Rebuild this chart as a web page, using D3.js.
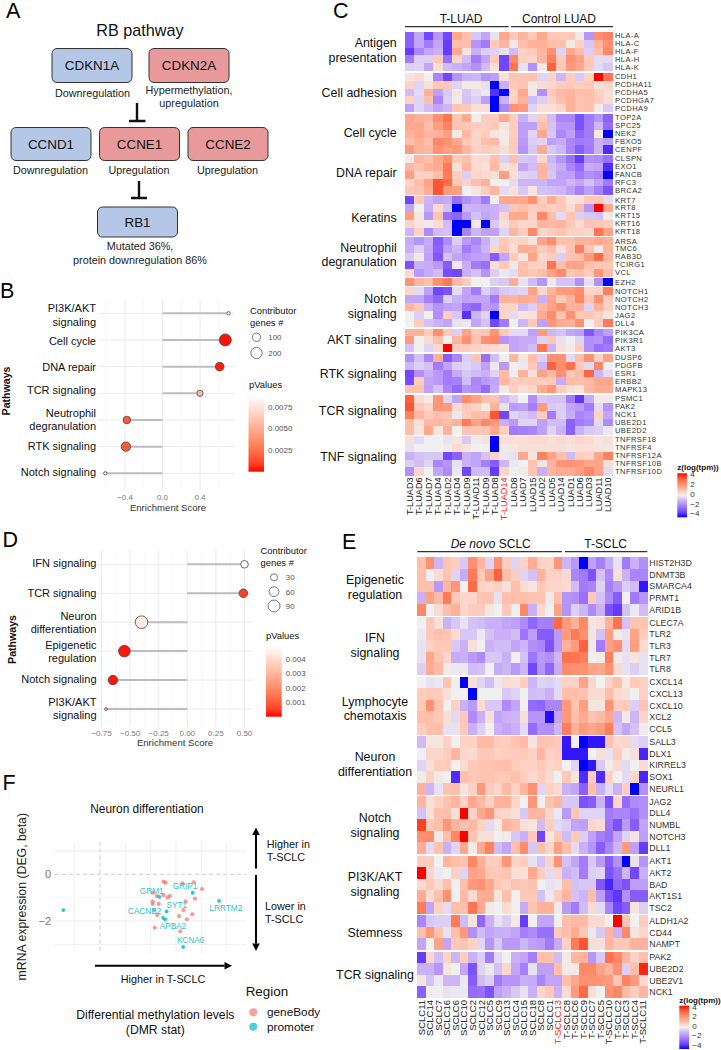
<!DOCTYPE html>
<html><head><meta charset="utf-8">
<style>html,body{margin:0;padding:0;background:#fff}svg{display:block}text{font-family:"Liberation Sans",Arial,sans-serif}</style>
<script src="https://cdn.jsdelivr.net/npm/d3@7"></script></head><body><div id="c"></div>
<script>
// ---------- Panel A ----------
const pathwayGenes=["CDKN1A","CDKN2A","CCND1","CCNE1","CCNE2","RB1"];
const pathwayStatus=["down","up","down","up","up","down"];
const pathwayNotes=[["Downregulation"],["Hypermethylation,","upregulation"],["Downregulation"],["Upregulation"],["Upregulation"],["Mutated 36%,","protein downregulation 86%"]];
// ---------- Panel B ----------
const bPathways=[["PI3K/AKT","signaling"],["Cell cycle"],["DNA repair"],["TCR signaling"],["Neutrophil","degranulation"],["RTK signaling"],["Notch signaling"]];
const bScores=[0.705,0.67,0.61,0.40,-0.38,-0.39,-0.61];
const bGenes=[10,230,110,50,80,130,10];
const bP=[0.0085,0.0001,0.0002,0.0055,0.0016,0.0016,0.0078];
const bTicks=[-0.4,0,0.4];
// ---------- Panel D ----------
const dPathways=[["IFN signaling"],["TCR signaling"],["Neuron","differentiation"],["Epigenetic","regulation"],["Notch signaling"],["PI3K/AKT","signaling"]];
const dScores=[0.50,0.49,-0.40,-0.55,-0.65,-0.71];
const dGenes=[35,45,100,85,55,4];
const dP=[0.0049,0.0005,0.0044,0.0001,0.0001,0.0040];
const dTicks=[-0.75,-0.5,-0.25,0,0.25,0.5];
// ---------- Panel F ----------
const fBodyX=[2.51,2.59,3.26,3.70,4.03,2.09,2.24,2.50,2.67,2.76,2.08,2.08,2.32,3.75,3.38,3.29,2.14,2.26,3.12,3.43,3.64,2.16,3.17];
const fBodyY=[-0.31,-0.36,-0.39,-0.34,-0.63,-0.79,-0.93,-0.89,-0.99,-0.93,-1.17,-1.27,-1.27,-1.04,-1.16,-1.53,-1.53,-1.74,-1.79,-1.93,-1.71,-2.29,-2.44];
const fPromX=[-1.45,2.34,3.66,4.70,2.63,2.49,2.58,3.28];
const fPromY=[-1.53,-0.97,-0.79,-1.14,-1.59,-1.87,-1.93,-3.11];
const fLabels=["GRM1","GRIP1","SYT1","CACNB2","APBA2","KCNA6","LRRTM2"];
const fLabelX=[2.04,3.36,3.03,1.76,2.88,3.58,4.97];
const fLabelY=[-0.70,-0.50,-1.31,-1.59,-2.21,-2.84,-1.43];
// ---------- Panel C ----------
const cCols=["T-LUAD3","T-LUAD6","T-LUAD7","T-LUAD4","T-LUAD2","T-LUAD4","T-LUAD9","T-LUAD11","T-LUAD9","T-LUAD8","T-LUAD14","LUAD8","LUAD7","LUAD15","LUAD2","LUAD5","LUAD14","LUAD1","LUAD6","LUAD3","LUAD11","LUAD10"];
const cGenes=[["HLA-A","HLA-C","HLA-F","HLA-H","HLA-K"],["CDH1","PCDHA11","PCDHA5","PCDHGA7","PCDHA9"],["TOP2A","SPC25","NEK2","FBXO5","CENPF"],["CLSPN","EXO1","FANCB","RFC3","BRCA2"],["KRT7","KRT8","KRT15","KRT16","KRT18"],["ARSA","TMC6","RAB3D","TCIRG1","VCL"],["EZH2"],["NOTCH1","NOTCH2","NOTCH3","JAG2","DLL4"],["PIK3CA","PIK3R1","AKT3"],["DUSP6","PDGFB","ESR1","ERBB2","MAPK13"],["PSMC1","PAK2","NCK1","UBE2D1","UBE2D2"],["TNFRSF18","TNFRSF4","TNFRSF12A","TNFRSF10B","TNFRSF10D"]];
const cValues=[
[-2.5,-1.2,-3,-1.5,-3,1.5,1,-0.6,-1.2,-0.2,1.5,0.8,1.2,0.8,1.5,0.8,0.8,0.8,0.1,-1.5,2,2.3],
[-2.5,-1.2,-2,-1.2,-3.2,1,1,-1.5,-2,0.8,1.2,0.1,1,1.3,1.3,1,1,0.1,0.6,-0.6,1.2,2],
[-3.2,-1.8,-1.2,-1,-3.2,1.5,0.2,-1,-0.5,-0.4,-0.2,-0.8,0.6,0.8,1.2,2,-0.4,1.5,1,-0.5,1,2.2],
[-2,-0.5,-0.5,0.8,-2.2,0.5,-0.8,-2,-1.2,0.8,-3,2.2,0.6,0.5,1.2,2.4,0.8,2,1.6,0.8,-0.3,-0.3],
[-0.5,-0.4,-1.2,0.3,-0.8,-1,-1.2,-1.6,-0.8,0.3,-3,2.6,-0.2,-1.6,0.1,3,0.8,1.8,1.5,0.8,-0.3,-0.6],
[0.2,0.4,0,-1.8,-3,-1.5,-1,-0.9,-1.5,-1.3,0.3,0.9,0.9,1,-0.4,0.6,-0.9,0.7,-0.6,0.6,4,2.6],
[0.6,-0.4,0.3,0.8,0.8,-0.4,0.1,0.1,-0.2,-4,-1,0.8,0.9,0.1,0.4,0.5,0.7,0.8,0.7,0.8,0.3,0.5],
[-0.8,-0.3,1.3,-1.3,-0.6,0.2,-0.6,-0.3,-0.1,-3.4,-4,0.5,1.5,0.1,-1.6,0.8,1.1,1.2,1,1,0.6,0.3],
[0.6,-0.4,1,-1.8,-0.5,0.1,-0.7,-0.5,-1.3,-4,-1,0.6,1.3,-0.8,-0.5,0.6,1,1.3,0.9,1,0.7,0.4],
[-1.3,-0.4,-0.8,-1.2,-0.9,0.9,0.8,0.3,0.3,-4,-1.8,2,1.8,-0.4,0.3,0.3,0.5,1.3,0.9,1,0.1,-0.6],
[1.5,1.3,1.2,2,2.6,0.8,1.5,0,0.7,0.7,1.5,0.7,-1,-0.4,0.7,-0.8,-1.8,-1.8,-2.8,-2,-1.5,-2.5],
[1.5,1.5,1,1.7,2.3,0.9,0.8,0.7,0.6,0.8,0.2,0.7,-1.3,-1.3,1,-0.7,-1.5,-1.5,-2.8,-2,-0.9,-2.3],
[1.3,1.5,1.2,1.3,1.7,0.1,1.2,0.5,0.7,0.2,0.1,0.7,-1.3,-0.4,1.5,-0.6,-1.8,-1.3,-2.4,-2,0.1,-4],
[1,1.3,1,2.2,2,1.5,0.8,0.5,1,1.1,0.1,0.8,-1.4,-0.5,-0.4,-1.3,-1.1,-1.8,-2,-1.9,-1,-1.3],
[1.8,1.3,1.2,2,1.7,1.8,1.2,0.6,0.7,0.6,0.3,0.7,-1.5,-0.6,1.4,-0.6,-0.9,-1.8,-2.6,-2,-1,-3.5],
[0.1,1.2,1,1.5,2,0.8,1,0.4,0.4,1,-0.5,1,-0.6,-0.7,0.5,-0.9,-1.5,-2.2,-3.2,-1.6,-1.7,-2.2],
[1.2,0.9,1.3,1.4,2.5,0.3,1.2,0.4,0.3,1.1,0.3,0.4,-1.2,-0.8,1.2,-0.7,-1.1,-1.8,-2.3,-1.1,-1.2,-3.5],
[1.7,0.6,0.6,1,2.5,0.7,-0.5,0.5,0.4,0.3,1.7,0.3,-0.4,-0.5,1.2,-0.6,-1.3,-1.3,-2,-1.6,-1.8,-4],
[0.5,1,1.6,3.2,2.8,0.8,0.6,1,1.3,0,0,-0.3,-0.9,-0.9,-0.9,-1.2,-1.2,-0.9,-1.2,-0.7,-1.2,-2],
[0.8,0.9,1.4,3.2,1.8,1.7,0,0.2,0.7,1.2,-0.3,0.3,-0.6,0.2,-0.7,-0.8,-0.9,-1.3,-1.9,-1.3,-1.9,-2.8],
[-3,0.8,-0.9,-1.2,-1.1,-2.2,-1.6,-1.3,-2,0,1.5,1.5,1.5,2,0.7,1.4,0.8,0.2,0.3,0.8,0.8,-0.3],
[-1.2,0,-1,0.4,-0.7,-4,-0.9,-1,-1.1,-1,-0.7,0.9,1,0.7,0.8,0.6,0.8,0.4,1.1,-1.5,4,1.5],
[1.7,0.2,-1.4,0.9,-2.2,-2.4,-1.4,-0.7,-1.2,-1,0.5,1.5,1.5,0.6,2.2,1,-0.3,0.9,-0.5,-0.6,-0.7,0.1],
[0.6,0.2,0.1,0.4,-0.8,-4,-4,0.1,-4,-0.6,0.3,0.8,0.5,0.5,1.2,1.1,1.2,0.8,0.4,0.9,0.8,0.7],
[-0.9,0.6,-1.7,-0.8,-0.7,-4,-1.8,-0.9,-1.3,-1.3,-0.4,1.2,0.7,2.2,0.5,0.7,0.9,0.6,0.6,0.5,2.6,1.6],
[-1.1,-1.5,-1.1,-2.6,-1.7,-0.5,-1.4,-1.8,-1,-0.3,0.8,0.5,0.6,0.2,1.6,2.1,1,1,1.3,1.3,1.5,1.3],
[-1,-0.5,-1.2,-2.5,-1.3,-0.9,-2,-1.5,-0.9,0.5,0.9,0.3,1.4,1.3,0.7,1,0.3,0.9,2.4,0.9,0.1,1.2],
[-0.6,0.1,-1.3,-2.7,-0.7,-1.2,-1.5,-1.3,-1.2,-2.6,-1.2,0.8,0.2,1.6,0.5,0.7,-0.5,0.9,1,1.8,2.8,1.2],
[-2.8,-1,-1.1,-1.4,-2.6,-0.1,-1.1,-2,-2.2,0.3,0.8,0.1,1,0.6,0.6,2.6,1,1.6,1.6,1,0.8,0.8],
[0.4,-1.4,-1.1,-0.8,-2.9,-3,-1,-0.7,-1.5,-0.5,-0.1,-0.3,1,0.8,1,1.6,2.1,0.8,1,0.7,1.9,1],
[2,1.2,1,2,2.5,1.1,0.7,0,0,-0.5,-0.6,1.4,-0.2,-0.8,-1.5,0.1,-0.7,-0.7,-1.6,-0.2,-1.6,-4],
[0.5,-0.3,-1.3,-3,-2.8,-0.3,-1.2,-2,-0.5,-1,-0.6,-0.5,-0.4,1.6,0.5,1.2,1.8,1.8,2.1,0.5,0.6,2.3],
[-1.2,-1.2,-1.9,-2.4,-0.5,-1,-1.3,-1.2,-1.2,-2,1.3,1.2,1.4,1.3,-1,1.6,0.8,1.3,2.2,0.9,2,0.7],
[1.2,0.8,-1,-1.5,-1.3,-1.2,-2.2,-2.4,-1.3,-1.5,0.5,0.5,-0.8,-0.5,1.2,1.6,2,1.3,1.3,-0.4,1.3,0.6],
[0,-0.5,0,-1.6,0.7,-0.6,-3.4,-0.9,-0.4,-4,0.5,-0.3,0.2,0.3,1.4,2.1,0.9,2,0.8,0.9,0.6,0.2],
[0,0.7,-0.7,-1,-1.2,-0.2,-0.1,-1.2,-0.7,-3,-2,0,-0.9,0.8,-1.3,1.9,1.4,1.3,2,0,0.7,2.5],
[1.3,1.3,0.7,2,0.7,-0.5,1.6,0.8,0.9,1.9,0.8,-0.3,-0.3,-1.3,1.8,-0.9,-0.7,-1.2,-1.3,-2.7,-1.8,-1.3],
[1.8,0,0.4,1,0,1.2,2,0.9,2,2.2,-1.5,-1.2,-1.1,-1.1,-0.4,0.8,-0.2,0,-0.4,-1.6,-1.5,-2.3],
[-0.7,0,-0.4,0.5,4,0.7,0.7,0.6,0.5,0.4,0.3,-1.2,-1.1,-0.8,2.6,-1,0.3,0.1,0.7,-1.6,-2.2,-2],
[-1.6,-0.7,-1.8,1.3,-2.6,-1.8,-0.5,0.9,-2.2,-0.8,0,1.2,0.2,1,-0.5,2,2,-0.3,1,2,0.6,1.6],
[-0.9,-0.5,-0.7,-2,-1.2,-0.5,-0.4,-0.6,-1.3,-0.1,-1.4,0,-0.1,0.8,-0.9,3,2.1,2.7,0.8,-0.3,2.2,0],
[-3,-1.6,-1,-1.4,-2,-1.1,-0.6,-0.8,-1,-0.4,1.1,0,1.3,0.3,1.6,1.1,2,0.8,1.1,2.9,-0.9,-0.3],
[-2.9,0.7,-1.2,-1.4,-2,-1.9,-0.8,-1.8,-1.4,-1.2,1.2,0.7,0.7,0.8,0.7,0.8,-1.1,1.1,1,1.1,1.5,1.5],
[0.9,0.9,-1.3,-0.7,-1.8,-2.3,-1.5,-1.7,-2.3,-1.1,0.1,0.7,0.3,0.5,1.4,1.9,0.7,0.3,0.2,1.1,1.4,1.4],
[3,0.4,0.1,1.9,-0.4,-1.2,2.1,1.6,1,0.9,-0.9,-0.5,0,-1.6,-0.6,-0.7,-0.7,-2,-3.3,-1.1,0.1,0.1],
[3.2,0.8,0.5,1.9,1.8,0.4,0.8,0.6,0.1,1.3,-0.2,-1.4,-1.3,-1.9,1.8,-0.6,-0.5,-1.2,-1.4,-2,-0.3,-1.5],
[2.3,1.2,0.7,1,0.9,-0.1,0.7,1,1,3.2,-3,-0.4,-0.6,-0.8,0.7,-2,-0.5,-1.1,-1.8,-1.6,0.6,-1.2],
[1,0.3,1.1,1.2,1,1.3,2.5,1.6,2.2,1.8,-1,-1.4,-0.4,-0.4,-1.3,-0.8,-0.8,-2.5,-2,-1.8,-0.3,-1.7],
[1,0.2,1.5,0.2,1.3,0,0.9,0.9,0.9,1.5,0.6,-2,-1.9,-1.8,-1.3,-0.4,-1,-2.5,-1,-0.6,-0.5,-0.1],
[0.3,-0.3,0,0,-0.2,0.2,-0.6,0.1,0.2,-4,0.3,0.3,0.3,0.4,0.4,0.3,0.4,0.3,0.5,0.4,0.2,0.3],
[-0.2,0,0,0,0.1,0.4,0.2,0,0,-4,0.1,0.2,0.3,0.3,0.3,0.3,0.3,0.2,0.3,0.3,0.2,0.2],
[-1,-0.7,-0.6,-0.6,-3,-2.5,-1,-1.2,-0.7,0.6,-0.1,-0.2,1.5,0.2,2.3,1.6,1,-0.8,0.7,0.6,1.5,2.3],
[-0.5,-0.8,-0.4,-1.8,-1.5,-0.2,-1,-1.2,-1.9,-2.6,-0.9,-0.1,0,0.9,0.2,1.3,1.9,2,1.8,1.5,1.6,0.3],
[-1.6,0.5,0,-1.2,-1.7,-0.1,-3,-0.8,-0.8,-3.2,0.5,0,0.1,0.9,-1,1.2,1.4,1.4,1.7,2.2,1.6,-0.3]
];
// ---------- Panel E ----------
const eCols=["SCLC11","SCLC14","SCLC7","SCLC16","SCLC6","SCLC10","SCLC2","SCLC12","SCLC5","SCLC9","SCLC13","SCLC4","SCLC15","SCLC18","SCLC8","SCLC1","T-SCLC13","T-SCLC8","T-SCLC6","T-SCLC9","T-SCLC7","T-SCLC5","T-SCLC10","T-SCLC2","T-SCLC3","T-SCLC4","T-SCLC11"];
const eGenes=[["HIST2H3D","DNMT3B","SMARCA4","PRMT1","ARID1B"],["CLEC7A","TLR2","TLR3","TLR7","TLR8"],["CXCL14","CXCL13","CXCL10","XCL2","CCL5"],["SALL3","DLX1","KIRREL3","SOX1","NEURL1"],["JAG2","DLL4","NUMBL","NOTCH3","DLL1"],["AKT1","AKT2","BAD","AKT1S1","TSC2"],["ALDH1A2","CD44","NAMPT"],["PAK2","UBE2D2","UBE2V1","NCK1"]];
const eValues=[
[1,2,-0.9,0.9,0.7,-0.6,2,1.2,-0.4,2,0.7,-0.4,0.6,1.4,0.6,0.5,1.9,-0.9,-1.4,-4,-1.3,-1.9,-1.1,-0.2,-2,-1,-1.6],
[1,0,0.4,0.9,-0.4,-1.1,2.5,0.8,1.6,3,1,0.7,-0.4,-0.7,1.3,0.6,0.6,0.4,-1.8,-2,-2.8,-0.7,-1.7,0.3,-1,-1.8,-1.8],
[1,1,-1.4,1.2,1.9,0,2.8,0.6,0.5,0.6,0.3,1,0.4,0.2,0.8,0.5,0.5,0.4,-0.8,-2,-1.8,-0.4,-1.9,-1.4,-0.5,-0.8,-3.8],
[-1,1.6,1.1,2.5,0.8,0.5,0.5,0.9,0.9,-0.2,1,1,1,0.9,0.9,0.1,1,-1.5,-1.6,-2.2,0.8,-0.7,-1.7,-2.6,0,-2,-1.5],
[2.2,0,0.4,1,1.3,0.5,0.7,0.7,0.2,0,0.8,0,2.2,-1,0.5,0,1.6,-1.5,-0.5,-0.9,-1.7,-1,-2.8,-3.2,-0.7,-0.1,-0.8],
[0,0.8,0.3,-1,-0.6,-0.2,-0.7,-0.8,-1,-1,-1.2,-1.3,-1.7,-2.4,-1.9,-1.9,2.8,1.8,1.3,2.2,0.2,0.3,1.3,2.6,-0.7,0.9,0.9],
[-0.1,0.8,1,0.9,0.4,-0.6,-0.6,-0.1,-0.7,-1,-1,-0.8,-2.1,-1.3,-2.6,-2.6,-1.4,1.8,2.5,2,0.2,-0.7,1.7,0.1,-0.2,1.6,0.7],
[-0.2,0.6,0.8,0.8,-0.6,-1,0.3,0,-1,-0.8,-0.8,-1.2,-0.9,-1.6,-1.8,-2.8,-1.4,1.3,1.8,3,0.1,-2,1.7,2,-0.3,1.7,0.4],
[-0.2,1.5,0.9,0.5,-1.1,-1,-1.4,-1.7,-0.6,-0.6,-1,0,-0.7,-2.1,-1.4,-1.6,-0.9,2.7,2.6,2.4,0,0.1,2.4,0.1,-0.2,0.2,-0.2],
[-0.5,1.4,1.1,0.1,-0.1,-0.1,-0.8,-0.7,0,-1.1,-0.9,-1.4,-0.9,-3,-1.5,-2.4,-1.1,2.1,2,2,1.6,1.5,2,0.4,-0.2,-0.5,-0.2],
[0,-0.2,-0.1,0.9,0,-4,0.3,-0.4,-0.8,-0.1,0.4,0.3,0.7,-0.9,-0.4,-0.5,-0.3,0.6,0.6,1.6,0.5,0,0.6,1,0.1,0.8,0.6],
[0.7,0.8,0.7,0.3,0,0,-4,0,0,0,-0.6,-0.4,0,-0.8,-0.7,-1,-0.3,1,1,0.9,0.4,0.4,1,0.4,0.3,0,0.6],
[0.8,2,0.9,0,0.6,-1,-1.4,0.4,-0.6,-0.6,-1.7,-1.2,0,-2.3,-2.4,-1.8,-1.8,1.8,0.9,1.7,0.2,0.2,2,0.7,0.8,-0.5,0.9],
[1,1,0.8,0.3,-0.3,0.8,-1.7,-1,0.3,-1.2,-1,-0.9,0.3,-1.5,-1.5,-3.9,-1.2,1.8,1,1.4,0.9,1.1,1.5,-0.9,0.1,-0.9,0.5],
[0.7,1,1,-0.2,-0.2,0.8,-1,-0.5,0,-1,-1.2,-1,-0.3,-2.3,-1.6,-1.6,-0.9,2.4,1.3,1.8,1.5,1.8,2.4,-0.7,-1.2,-0.7,0.1],
[-0.8,0.2,0.2,0.6,0,0.6,0.6,1.1,1.1,0.7,0.7,0.9,1.1,0.2,0.9,0.9,0.8,-3.8,0,-4,-3.8,-3.8,0.9,0.4,0.5,-0.3,-0.5],
[0,0.5,0.5,0.7,1.2,0.5,0.4,0.8,0.8,0.6,0.7,0.7,0.8,0.6,1.2,0.6,0.7,-3.8,-3.8,-3.8,0,0.3,-0.2,0.7,0.1,0.3,-3.6],
[-0.4,0.3,0.7,0.7,0,0.4,0.8,0.9,0.9,1,1,0.7,0.6,0.6,0.8,0.5,0.6,0,-0.4,-4,-3.8,-0.6,0.1,0.4,-0.3,0,0.4],
[0.1,0.6,0.1,0,-3.5,1,0.8,0.9,0.9,0.8,0.8,1,0.7,0.4,0.7,0.4,0,0.8,0.2,-3.5,0.7,-3.5,0.6,0,-0.3,0.5,-3.6],
[1.3,-0.9,-0.2,0.9,1,0.2,0.6,1.9,0.7,0.5,1.1,0.6,1.2,2,-0.4,0.6,0.4,-1,-1.2,-2.5,1,-1,-0.3,-1,0.7,-4,-1.6],
[1.2,0.3,0.6,0.9,1.2,0.6,1.5,1.1,0.6,1.3,1.3,0.5,0,1.9,0,0.9,1.2,-0.6,-0.6,-2.8,-2.6,-1,-2.8,0.5,-2.3,-1.7,-1.6],
[-0.7,0.3,1,1,0.3,4,0.6,1.5,1.9,0.6,0.5,0.3,-0.6,1.2,1.2,0.5,-0.1,-1.4,0.9,-0.4,-0.4,-0.4,-2,-1.8,-1.8,-2.2,-1.6],
[3.5,0.8,1,1.9,1.2,1,1.1,0.6,-0.3,0.1,1.2,1,0.3,0.2,-0.8,0.7,-0.3,-0.5,-1.2,-1.3,0.5,0.4,-2.1,-2.8,-1.4,-2.6,-1.2],
[2,2.1,0.1,1,2.2,4,0.9,0.3,0.3,0,0.1,-0.6,-1,0.8,-3,0.2,0.8,-0.8,0.8,-0.5,-1.3,-1.9,-2.2,-1.2,-0.4,0.2,-1.3],
[1.4,-0.3,0.9,-1,-0.4,1.5,0.1,1.5,2.3,-0.8,-1.2,1,2.1,-0.6,1,0.5,1.7,1,-0.3,-1,-1.5,-2.6,-1.8,-0.9,1.8,-1.3,-3.2],
[0.7,0.7,0,1.2,1,0.9,2.2,1.3,0.7,0.7,1.9,0.6,0.7,-0.2,-0.7,0.6,2,-0.7,-1.2,-2,-0.6,-1.4,-2.6,-1.6,-4,-0.2,-1.5],
[4,0.5,-0.1,0,0.6,-0.4,1.6,1.5,0.8,0.8,0.9,0.3,0.3,1.5,0.7,-0.3,0.5,-1,-0.8,-2,-0.5,-0.4,-2.8,-2.2,-0.9,-3,-1],
[0.4,0.8,0.4,1,0,1,1.8,2,1.5,0.8,0.6,0.9,0.8,0.9,0,-0.2,-0.1,1,-0.7,-0.6,-0.6,-2.7,-3.6,-2.4,-2.8,-1.3,-1.3],
[1.4,0.4,1,2,0,1.1,0.4,1.4,1.4,0.2,1,0,0.8,0.8,-0.7,-0.1,0.7,1.2,-0.7,-0.9,1,-1.3,-2.8,-3.3,-1.6,-2.6,-2.6],
[2.5,-1.2,0.6,-0.3,1,1,2.6,1.5,0.1,0,0.4,0,-1.1,0.9,1.3,1.3,0.1,-1.4,-2,-0.8,0.4,-0.3,-1.8,-3,-2.6,0.2,-0.5],
[-1.8,-0.6,-0.5,-0.5,2.5,-0.8,0.2,-2.4,-1,-0.2,-0.5,0.1,-3.2,0,-1.2,-1.2,0,1,1.1,1.1,0.4,0.4,0,4,0.9,0,0.7],
[1,1.9,0.9,-0.2,1,1.9,-1.6,-0.8,-1.2,-1,-1,-1.2,-1.9,-1.7,-2.2,-2.2,0.8,1,1.4,0.8,-0.1,-0.6,1.2,-1,2.2,0.2,0.5],
[-1.2,0,1.6,-1.2,0.8,0.9,0.6,-0.4,-1.5,-0.6,-1.4,-1.4,-0.9,-1.3,-1.4,-2,-1.1,0.6,2.5,3.2,0.3,0.3,1.2,0.8,0.8,1.3,1.3],
[-3.2,0.5,-0.8,0.6,-0.9,0.7,-1,-0.5,-2,-0.3,0,-1,-1.2,-1.9,1,1,-0.8,0.1,1.2,1.3,-1.5,-0.6,2.7,2.2,1.2,0.6,1],
[-1,-1,-1.5,0.2,0,-1.2,-2.8,-0.4,-0.1,-0.7,0.5,-1.2,-1.9,-0.2,-1.3,-1.3,1,0.1,0.1,2.2,2.2,1.6,1.2,2,-0.5,1,3.8],
[0.2,-0.7,-0.1,-0.9,-0.9,-0.1,-2.6,-0.8,-0.5,-2,-1.5,-1.5,-1,-1.1,-1.8,-1.2,-1.2,1,1.5,2,2,1.9,1.8,0.8,2.3,1.8,0.4],
[-2.5,0,0,-0.2,-0.1,-0.1,-2.3,-2.2,-2.8,-1.3,-1,-0.6,-0.2,-1,0.5,0.8,-1,0.4,1.8,2.8,0.3,0,2,2.2,1.1,0.7,1.2]
];
const zTicks=[4,2,0,-2,-4];

const svg=d3.select("#c").append("svg").attr("width",721).attr("height",1050).style("background","#fff");
const zColor=d3.scalePow().exponent(0.9).domain([-4,0,4]).range(["#0000ff","#f0f0f0","#ff0000"]).interpolate(d3.interpolateLab).clamp(true);
const fmtMinus=s=>String(s).replace("-","\u2212");
function txt(g,x,y,s,size,o={}){
  return g.append("text").attr("x",x).attr("y",y).attr("dy","0.35em").attr("font-size",size)
   .attr("text-anchor",o.anchor||"start").attr("fill",o.fill||"#111").attr("font-weight",o.weight||null)
   .attr("letter-spacing",o.ls||null).text(s);
}
[["A",6,10.5],["B",0,290],["D",2.5,539],["F",2.5,782.5],["C",333,10.5],["E",342,541]].forEach(d=>txt(svg,d[1],d[2],d[0],21.5,{fill:"#000"}));

// ---------- Panel A drawing ----------
(function(){
 const g=svg.append("g");
 txt(g,140,30.5,"RB pathway",16.2,{anchor:"middle"});
 const W=80, pos=[[92,65.5,34],[189,65.5,34],[51,144,33],[139.5,144,33],[228,144,33],[137.5,222,30]];
 pathwayGenes.forEach((n,i)=>{
  const [cx,cy,h]=pos[i];
  g.append("rect").attr("x",cx-W/2).attr("y",cy-h/2).attr("width",W).attr("height",h).attr("rx",5)
   .attr("fill",pathwayStatus[i]=="up"?"#e89a9a":"#b4c7e7").attr("stroke","#333").attr("stroke-width",1);
  txt(g,cx,cy,n,13.4,{anchor:"middle"});
 });
 const nx=[92.5,189,50.5,139,227.5,140], ny=[[93],[90.5,103],[170],[170],[170],[246,260]];
 pathwayNotes.forEach((ls,i)=>ls.forEach((l,j)=>txt(g,nx[i],ny[i][j],l,10.8,{anchor:"middle",fill:"#222"})));
 [[137,103,121,129,145.5],[139,181,198,131,147]].forEach(t=>{
  g.append("path").attr("d",`M${t[0]},${t[1]}V${t[2]}M${t[3]},${t[2]}H${t[4]}`).attr("stroke","#111").attr("stroke-width",2.4).attr("fill","none");
 });
})();

// ---------- lollipops ----------
function lollipop(o){
 const g=svg.append("g");
 const x=d3.scaleLinear().domain(o.xDomain).range(o.xRange);
 const y=d3.scalePoint().domain(d3.range(o.paths.length)).range(o.yRange);
 o.minor.forEach(t=>g.append("line").attr("x1",x(t)).attr("x2",x(t)).attr("y1",o.top).attr("y2",o.bottom).attr("stroke","#f4f4f4").attr("stroke-width",0.7));
 o.ticks.forEach(t=>g.append("line").attr("x1",x(t)).attr("x2",x(t)).attr("y1",o.top).attr("y2",o.bottom).attr("stroke","#eaeaea").attr("stroke-width",1));
 o.paths.forEach((p,i)=>{
  g.append("line").attr("x1",o.left).attr("x2",o.right).attr("y1",y(i)).attr("y2",y(i)).attr("stroke","#eaeaea").attr("stroke-width",1);
 });
 const col=d3.scaleLinear().domain([0,o.pMax]).range(["#ff0000","#ffffff"]).interpolate(d3.interpolateLab);
 const r=d3.scaleSqrt().domain(o.sizeDomain).range(o.sizeRange);
 o.paths.forEach((p,i)=>{
  g.append("line").attr("x1",x(0)).attr("x2",x(o.scores[i])).attr("y1",y(i)).attr("y2",y(i)).attr("stroke","#bdbdbd").attr("stroke-width",2);
 });
 o.paths.forEach((p,i)=>{
  g.append("circle").attr("cx",x(o.scores[i])).attr("cy",y(i)).attr("r",r(o.genes[i])).attr("fill",col(o.p[i])).attr("stroke","#444").attr("stroke-width",0.8);
  p.forEach((l,j)=>txt(g,o.labelX,o.labelYs[i][j],l,11,{anchor:"end",fill:"#111"}));
 });
 o.ticks.forEach(t=>txt(g,x(t),o.tickY,t.toFixed(o.dec).replace("-","\u2212"),8,{anchor:"middle",fill:"#777"}));
 txt(g,o.titleX,o.titleY,"Enrichment Score",9.6,{anchor:"middle",fill:"#333"});
 g.append("text").attr("transform",`translate(${o.pwX},${o.pwY}) rotate(-90)`).attr("text-anchor","middle").attr("dy","0.35em").attr("font-size",10.6).attr("font-weight","bold").attr("fill","#111").text("Pathways");
 txt(g,o.legX,o.legY,"Contributor",9.4);txt(g,o.legX,o.legY+12,"genes #",9.4);
 o.sizeLeg.forEach((s,i)=>{
  g.append("circle").attr("cx",o.sizeX).attr("cy",o.sizeYs[i]).attr("r",r(s)).attr("fill","#fff").attr("stroke","#555").attr("stroke-width",0.8);
  txt(g,o.sizeX+11.7,o.sizeYs[i],s,8,{fill:"#555"});
 });
 txt(g,o.pX,o.pY,"pValues",9.4);
 const cy=d3.scaleLinear().domain([0,o.pMax]).range([o.barB,o.barT]);
 const id="grad"+o.id;
 const lg=svg.append("defs").append("linearGradient").attr("id",id).attr("x1",0).attr("x2",0).attr("y1",1).attr("y2",0);
 d3.range(0,1.001,0.1).forEach(t=>lg.append("stop").attr("offset",t).attr("stop-color",col(t*o.pMax)));
 g.append("rect").attr("x",o.barX).attr("y",o.barT).attr("width",o.barW).attr("height",o.barB-o.barT).attr("fill",`url(#${id})`);
 o.pTicks.forEach(t=>txt(g,o.barX+o.barW+4,cy(t),t.toFixed(o.pDec),8,{fill:"#555"}));
}
lollipop({id:"b",paths:bPathways,scores:bScores,genes:bGenes,p:bP,ticks:bTicks,minor:[-0.6,-0.2,0.2,0.6],dec:1,
 xDomain:[-0.4,0.4],xRange:[125,200],yRange:[313.3,473.3],top:300,bottom:490,left:99,right:235,labelX:96,tickY:497,titleX:168,titleY:507.5,pwX:6.5,pwY:391,
 labelYs:[[308.3,322],[340.7],[367.3],[390],[412.7,426],[446],[472.3]],
 pMax:0.0088,sizeDomain:[10,230],sizeRange:[1.7,6],legX:250,legY:311,sizeX:256.5,sizeYs:[337.3,353],sizeLeg:[100,200],pX:249,pY:385,barX:248.5,barW:15.5,barT:396,barB:471.7,pTicks:[0.0075,0.005,0.0025],pDec:4});
lollipop({id:"d",paths:dPathways,scores:dScores,genes:dGenes,p:dP,ticks:dTicks,minor:[-0.625,-0.375,-0.125,0.125,0.375],dec:2,
 xDomain:[0,0.5],xRange:[187.3,244.5],yRange:[564.3,709],top:550,bottom:726.7,left:96,right:252,labelX:96.5,tickY:732.7,titleX:175,titleY:743,pwX:12,pwY:639.5,
 labelYs:[[563.3],[592.7],[615.7,628.7],[644.7,657.7],[679.3],[702.3,715.3]],
 pMax:0.0049,sizeDomain:[4,100],sizeRange:[1.4,6.3],legX:260.5,legY:550.7,sizeX:274,sizeYs:[577.3,591.7,606],sizeLeg:[30,60,90],pX:266,pY:636,barX:266,barW:15.7,barT:646,barB:716.7,pTicks:[0.004,0.003,0.002,0.001],pDec:3});

// ---------- Panel F ----------
(function(){
 const g=svg.append("g");
 const x=d3.scaleLinear().domain([0,1]).range([100,125.33]);
 const y=d3.scaleLinear().domain([0,-2]).range([874.3,921]);
 const L=55,R=246,T=841.7,B=953;
 [-1,0,1,2,3,4,5].forEach(t=>{ if(t!==0) g.append("line").attr("x1",x(t)).attr("x2",x(t)).attr("y1",T).attr("y2",B).attr("stroke","#f0f0f0");});
 [1,-1,-2,-3].forEach(t=>g.append("line").attr("x1",L).attr("x2",R).attr("y1",y(t)).attr("y2",y(t)).attr("stroke",t==-1?"#f5f5f5":"#ededed"));
 g.append("line").attr("x1",L).attr("x2",R).attr("y1",y(0)).attr("y2",y(0)).attr("stroke","#ccc").attr("stroke-dasharray","4 3");
 g.append("line").attr("x1",x(0)).attr("x2",x(0)).attr("y1",T).attr("y2",B).attr("stroke","#ccc").attr("stroke-dasharray","4 3");
 fBodyX.forEach((v,i)=>g.append("circle").attr("cx",x(v)).attr("cy",y(fBodyY[i])).attr("r",2.1).attr("fill","#F8766D").attr("opacity",0.75));
 fPromX.forEach((v,i)=>g.append("circle").attr("cx",x(v)).attr("cy",y(fPromY[i])).attr("r",1.9).attr("fill","#00BFC4").attr("opacity",0.85));
 fLabels.forEach((l,i)=>txt(g,x(fLabelX[i]),y(fLabelY[i]),l,8.2,{anchor:"middle",fill:"#2cc2c4"}));
 txt(g,147,809,"Neuron differentiation",11.9,{anchor:"middle"});
 g.append("text").attr("transform","translate(22,896.7) rotate(-90)").attr("text-anchor","middle").attr("dy","0.35em").attr("font-size",12.3).attr("fill","#222").text("mRNA expression (DEG, beta)");
 txt(g,51,y(0),"0",11,{anchor:"end",fill:"#777"});
 txt(g,51,y(-2),"\u22122",11,{anchor:"end",fill:"#777"});
 const arrow=(x1,y1,x2,y2)=>{
  const a=Math.atan2(y2-y1,x2-x1), s=7.5, w=3.8;
  const bx=x2-s*Math.cos(a), by=y2-s*Math.sin(a);
  g.append("line").attr("x1",x1).attr("y1",y1).attr("x2",bx).attr("y2",by).attr("stroke","#000").attr("stroke-width",2);
  g.append("path").attr("fill","#000").attr("d",`M${x2},${y2}L${bx-w*Math.sin(a)},${by+w*Math.cos(a)}L${bx+w*Math.sin(a)},${by-w*Math.cos(a)}Z`);
 };
 arrow(256,868.5,256,827.5);arrow(256,875,256,951);arrow(95,965.7,232,965.7);
 txt(g,266.7,844.7,"Higher in",10.8);txt(g,266.7,857.7,"T-SCLC",10.8);
 txt(g,265,906.7,"Lower in",10.8);txt(g,265,919.7,"T-SCLC",10.8);
 txt(g,163,979.3,"Higher in T-SCLC",10.8,{anchor:"middle"});
 txt(g,155.3,1014.3,"Differential methylation levels",12.2,{anchor:"middle"});
 txt(g,155.3,1029.3,"(DMR stat)",12.2,{anchor:"middle"});
 txt(g,245.7,991.3,"Region",13.4);
 g.append("circle").attr("cx",253.3).attr("cy",1012.3).attr("r",4).attr("fill","#F8766D").attr("opacity",0.7);
 g.append("circle").attr("cx",253.3).attr("cy",1026.7).attr("r",4).attr("fill","#00BFC4").attr("opacity",0.7);
 txt(g,267,1012.3,"geneBody",11.8);txt(g,267,1026.7,"promoter",11.8);
})();

// ---------- heatmaps ----------
function heatmap(o){
 const g=svg.append("g");
 const x=d3.scaleBand().domain(d3.range(o.cols.length)).range([o.x0,o.x1]);
 let rowIdx=0, top=o.top;
 o.genes.forEach(grp=>{
  const y=d3.scaleBand().domain(grp).range([top,top+grp.length*o.rowH]);
  grp.forEach(gene=>{
   const vals=o.values[rowIdx++];
   g.selectAll(null).data(vals).enter().append("rect")
    .attr("x",(d,i)=>x(i)).attr("y",y(gene)).attr("width",x.bandwidth()+0.3).attr("height",y.bandwidth()+0.2)
    .attr("fill",d=>zColor(d)).attr("shape-rendering","crispEdges");
   txt(g,o.x1+o.labPad,y(gene)+y.bandwidth()/2,gene,o.geneSize,{fill:"#333",ls:o.geneLs});
  });
  top+=grp.length*o.rowH+o.gap;
 });
 o.cols.forEach((c,i)=>{
  g.append("text").attr("transform",`translate(${x(i)+x.bandwidth()/2},${o.colTop}) rotate(-90)`).attr("text-anchor","end").attr("dy","0.35em")
   .attr("font-size",o.colSize).attr("fill",c===o.redCol?"#ff2020":"#222").text(c);
 });
 const lg=svg.append("defs").append("linearGradient").attr("id","z"+o.id).attr("x1",0).attr("x2",0).attr("y1",1).attr("y2",0);
 d3.range(0,1.001,0.1).forEach(t=>lg.append("stop").attr("offset",t).attr("stop-color",zColor(-4+8*t)));
 g.append("rect").attr("x",o.legX).attr("y",o.legT).attr("width",9.7).attr("height",o.legB-o.legT).attr("fill",`url(#z${o.id})`);
 const ly=d3.scaleLinear().domain([4,-4]).range([o.legT+1.2,o.legB-3.8]);
 txt(g,o.legX,o.legT-6,"z(log(tpm))",8,{weight:"bold"});
 zTicks.forEach(t=>txt(g,o.legX+13,ly(t),fmtMinus(t),8,{fill:"#333"}));
}
heatmap({id:"c",cols:cCols,genes:cGenes,values:cValues,x0:405,x1:612.8,top:31.7,rowH:7.9,gap:1.55,labPad:2.2,geneSize:7.6,geneLs:0.38,colTop:477.3,colSize:9.2,redCol:"T-LUAD14",legX:677.3,legT:473.3,legB:517.3});
heatmap({id:"e",cols:eCols,genes:eGenes,values:eValues,x0:417.3,x1:647.3,top:557.3,rowH:11.63,gap:1.5,labPad:2,geneSize:8.8,colTop:1000,colSize:9.5,redCol:"T-SCLC13",legX:679.3,legT:1005.7,legB:1049});

// headers
txt(svg,461,18.3,"T-LUAD",12,{anchor:"middle"});
txt(svg,559,18.3,"Control LUAD",12,{anchor:"middle"});
[[405,508.5,26.7],[511,613,26.7],[417.3,562,551.7],[565,647.3,551.7]].forEach(l=>svg.append("line").attr("x1",l[0]).attr("x2",l[1]).attr("y1",l[2]).attr("y2",l[2]).attr("stroke","#333").attr("stroke-width",1.2));
const dn=txt(svg,490.7,544,"",12,{anchor:"middle"});
dn.append("tspan").attr("font-style","italic").text("De novo");dn.append("tspan").text(" SCLC");
txt(svg,605.7,544,"T-SCLC",12,{anchor:"middle"});

// group labels
const cGroupLabels=[["Antigen","presentation"],["Cell adhesion"],["Cell cycle"],["DNA repair"],["Keratins"],["Neutrophil","degranulation"],["Notch","signaling"],["AKT sinaling"],["RTK signaling"],["TCR signaling"],["TNF signaling"]];
const cGroupYs=[[42.7,57.3],[92.7],[132.7],[172.7],[217.3],[247.3,262],[298.3,313.3],[340],[374],[410.7],[456.7]];
cGroupLabels.forEach((ls,i)=>ls.forEach((l,j)=>txt(svg,396.7,cGroupYs[i][j],l,12.4,{anchor:"end"})));
const eGroupLabels=[["Epigenetic","regulation"],["IFN","signaling"],["Lymphocyte","chemotaxis"],["Neuron","differentiation"],["Notch","signaling"],["PI3K/AKT","signaling"],["Stemness"],["TCR signaling"]];
const eGroupYs=[[580,595],[638,653],[702,716],[757,772],[818,833],[877,892],[933],[975]];
eGroupLabels.forEach((ls,i)=>ls.forEach((l,j)=>txt(svg,375,eGroupYs[i][j],l,12.4,{anchor:"middle"})));
</script></body></html>
